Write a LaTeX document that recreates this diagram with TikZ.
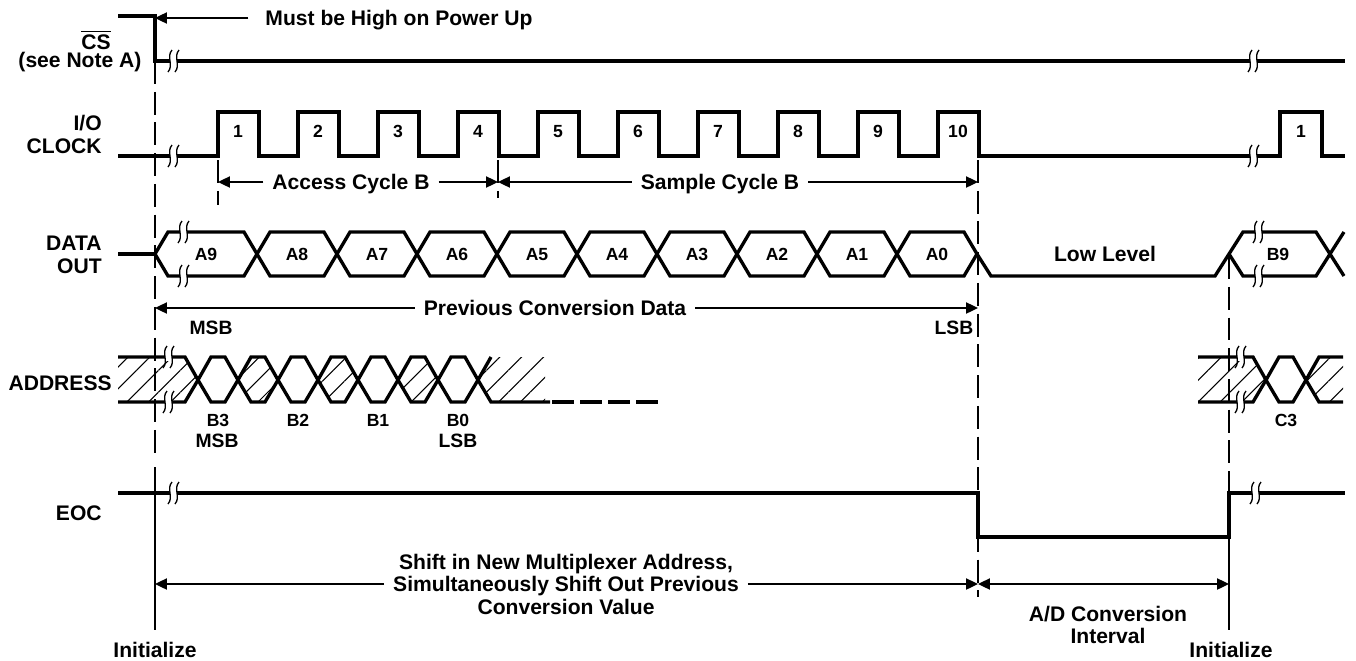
\documentclass[tikz,border=0pt]{standalone}
\usepackage{fontspec}
\setmainfont{Liberation Sans}
\usetikzlibrary{arrows.meta,patterns.meta}
\begin{document}
\begin{tikzpicture}[x=0.02cm, y=-0.02cm, font=\fontsize{12}{12.8}\selectfont\bfseries,
  >={Triangle[length=6.8pt,width=6.4pt]},
  sig/.style={line width=1.9pt},
  thinl/.style={line width=0.75pt},
  guide/.style={line width=0.75pt, dash pattern=on 13pt off 4.5pt},
  hatch/.style={pattern={Lines[angle=45,distance=8.8pt,line width=0.6pt]}},
  bit/.style={font=\fontsize{10}{12}\selectfont\bfseries, text height=7.2pt, text depth=0pt},
  lab/.style={inner xsep=5pt, text depth=0pt},
  sig name/.style={anchor=east, inner sep=0pt, text depth=0pt}]
\useasboundingbox (0,0) rectangle (1356,660);
\def\brk(#1,#2){\fill[white] (#1,#2-3.5) rectangle (#1+7,#2+3.5);
  \draw[thinl] (#1+2,#2-11) .. controls (#1-4,#2-4) and (#1+4,#2+4) .. (#1-2,#2+11);
  \draw[thinl] (#1+9,#2-11) .. controls (#1+3,#2-4) and (#1+11,#2+4) .. (#1+5,#2+11);}

\node (csL) at (96,40) {$\overline{\mbox{CS}}$};
\node (csN) at (80,62) {(see Note A)};
\node[sig name] (clkL) at (102,123) {I/O};
\node[sig name] (clkL2) at (102,146) {CLOCK};
\node[sig name] (doL) at (102,243) {DATA};
\node[sig name] (doL2) at (102,266) {OUT};
\node[sig name] (adL) at (112,383) {ADDRESS};
\node[sig name] (eocL) at (102,513) {EOC};

\draw[guide] (155,61) -- (155,460);
\draw[thinl] (155,467) -- (155,630);
\draw[guide] (218,160) -- (218,205);
\draw[guide] (498,160) -- (498,198);
\draw[guide] (978,160) -- (978,597);
\draw[guide] (1229,256) -- (1229,493);
\draw[thinl] (1229,537) -- (1229,630);

\draw[sig] (118,16) -- (155,16) -- (155,61) -- (1345,61);
\draw[sig] (118,156) foreach \k in {0,...,9} {-- (218+80*\k,156) -- (218+80*\k,112) -- (259+80*\k,112) -- (259+80*\k,156)}
  -- (1280,156) -- (1280,112) -- (1322,112) -- (1322,156) -- (1345,156);
\foreach \k in {1,...,10}
  \node[bit] (ck\k) at (158+80*\k,131) {\k};
\node[bit] (ckB) at (1301,131) {1};

\draw[sig] (118,254) -- (155,254);
\foreach \R/\t [remember=\R as \L (initially 155)] in {257/A9,337/A8,417/A7,497/A6,577/A5,657/A4,737/A3,817/A2,897/A1,977/A0} {
  \draw[sig] (\L,254) -- (\L+13,232) -- (\R-13,232) -- (\R,254) -- (\R-13,276) -- (\L+13,276) -- cycle;
  \node[bit] (d\t) at ({(\L+\R)/2},254) {\t};
}
\draw[sig] (977,254) -- (991,276) -- (1215,276) -- (1243,232) -- (1316,232) -- (1344,276);
\draw[sig] (1229,254) -- (1243,276) -- (1316,276) -- (1344,232);
\node (low) at (1105,254) {Low Level};
\node[bit] (dB9) at (1278,254) {B9};

\fill[hatch] (118,357) -- (185,357) -- (198,380) -- (185,402) -- (118,402) -- cycle;
\foreach \c in {238,318,398}
  \fill[hatch] (\c,380) -- (\c+13,357) -- (\c+27,357) -- (\c+40,380) -- (\c+27,402) -- (\c+13,402) -- cycle;
\fill[hatch] (478,380) -- (491,357) -- (545,357) -- (545,402) -- (491,402) -- cycle;
\draw[sig] (118,357) -- (185,357) -- (198,380) -- (185,402) -- (118,402);
\foreach \c in {198,238,...,438}
  \draw[sig] (\c,380) -- (\c+13,357) -- (\c+27,357) -- (\c+40,380) -- (\c+27,402) -- (\c+13,402) -- cycle;
\draw[sig] (491,357) -- (478,380) -- (491,402) -- (550,402);
\draw[sig, dash pattern=on 12.5pt off 3.5pt] (552,402) -- (658,402);
\fill[hatch] (1198,357) -- (1253,357) -- (1266,380) -- (1253,402) -- (1198,402) -- cycle;
\fill[hatch] (1306,380) -- (1319,357) -- (1343,357) -- (1343,402) -- (1319,402) -- cycle;
\draw[sig] (1198,357) -- (1253,357) -- (1266,380) -- (1253,402) -- (1198,402);
\draw[sig] (1266,380) -- (1279,357) -- (1293,357) -- (1306,380) -- (1293,402) -- (1279,402) -- cycle;
\draw[sig] (1343,357) -- (1319,357) -- (1306,380) -- (1319,402) -- (1343,402);
\foreach \x/\t in {218/B3,298/B2,378/B1,458/B0,1286/C3}
  \node[bit] (a\t) at (\x,420) {\t};
\node[font=\fontsize{11}{12}\selectfont\bfseries] (amsb) at (217,441) {MSB};
\node[font=\fontsize{11}{12}\selectfont\bfseries] (alsb) at (458,441) {LSB};

\draw[sig] (118,493) -- (978,493) -- (978,537) -- (1229,537) -- (1229,493) -- (1345,493);

\brk(170,61) \brk(1250,61)
\brk(170,156) \brk(1250,156)
\brk(180,232) \brk(180,276) \brk(1255,232) \brk(1255,276)
\brk(165,357) \brk(165,402) \brk(1237,357) \brk(1237,402)
\brk(170,493) \brk(1252,493)

\coordinate (csE) at (155,18);
\node[lab, inner xsep=9.6pt] (mbh) at (399,18) {Must be High on Power Up};
\draw[thinl,->] (mbh.west) -- (csE);

\coordinate (t1) at (218,182);
\coordinate (t2) at (498,182);
\coordinate (t3) at (978,182);
\node[lab] (acc) at (351,182) {Access Cycle B};
\node[lab] (smp) at (720,182) {Sample Cycle B};
\draw[thinl,->] (acc.west) -- (t1);
\draw[thinl,->] (acc.east) -- (t2);
\draw[thinl,->] (smp.west) -- (t2);
\draw[thinl,->] (smp.east) -- (t3);

\coordinate (p1) at (155,308);
\coordinate (p2) at (978,308);
\node[lab] (pcd) at (555,308) {Previous Conversion Data};
\draw[thinl,->] (pcd.west) -- (p1);
\draw[thinl,->] (pcd.east) -- (p2);
\node[font=\fontsize{11}{12}\selectfont\bfseries] (dmsb) at (211,328) {MSB};
\node[font=\fontsize{11}{12}\selectfont\bfseries] (dlsb) at (954,328) {LSB};

\coordinate (s1) at (155,584);
\coordinate (s2) at (978,584);
\coordinate (s3) at (1229,584);
\node[lab, align=center] (shf) at (566,584) {Shift in New Multiplexer Address,\\Simultaneously Shift Out Previous\\Conversion Value};
\draw[thinl,->] (shf.west) -- (s1);
\draw[thinl,->] (shf.east) -- (s2);
\draw[thinl,<->] (s2) -- (s3);
\node[align=center] (adc) at (1108,625) {A/D Conversion\\Interval};

\node (ini1) at (155,650) {Initialize};
\node (ini2) at (1231,650) {Initialize};
\end{tikzpicture}
\end{document}
